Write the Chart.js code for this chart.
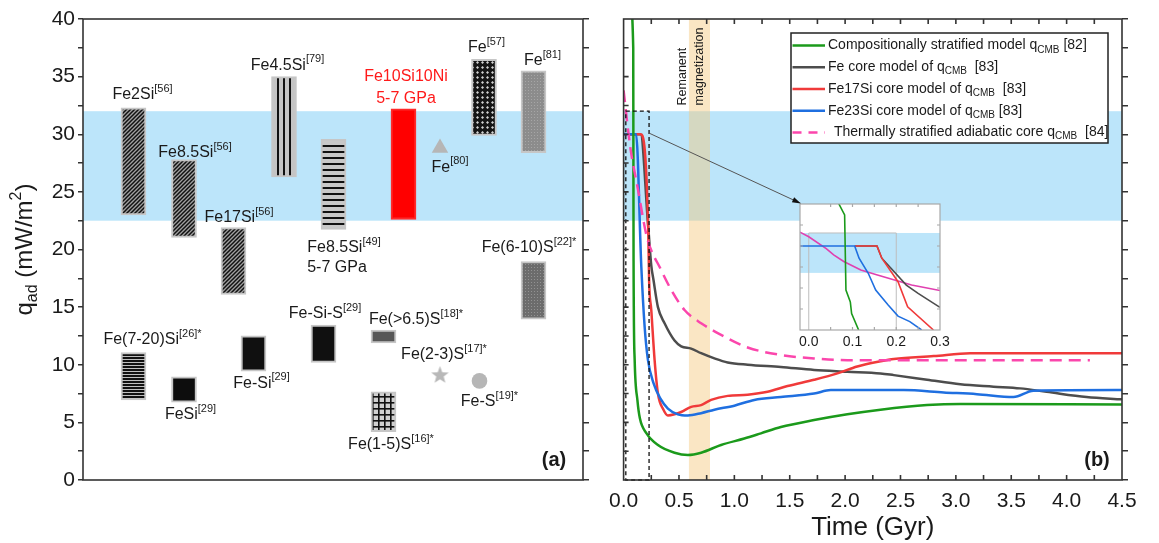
<!DOCTYPE html>
<html lang="en">
<head>
<meta charset="UTF-8">
<title>q_ad and q_CMB</title>
<script src="https://cdn.jsdelivr.net/npm/chart.js@4.4.1/dist/chart.umd.min.js"></script>
<style>
  html, body { margin: 0; padding: 0; background: #fff; }
  body { width: 1159px; height: 543px; position: relative; overflow: hidden; }
  canvas { position: absolute; }
  #chartA { left: 0; top: 0; }
  #chartB { left: 600px; top: 0; }
  #chartC { left: 790px; top: 196px; }
</style>
</head>
<body>
<canvas id="chartA" width="600" height="543"></canvas>
<canvas id="chartB" width="559" height="543"></canvas>
<canvas id="chartC" width="165" height="160"></canvas>
<script>
// ---- panel (a): floating q_ad ranges ----
const barNames = ['Fe2Si[56]', 'Fe8.5Si[56]', 'Fe17Si[56]', 'Fe4.5Si[79]', 'Fe8.5Si[49]', 'Fe10Si10Ni', 'Fe[57]', 'Fe[81]',
  'Fe(6-10)S[22]*', 'Fe(7-20)Si[26]*', 'FeSi[29]', 'Fe-Si[29]', 'Fe-Si-S[29]', 'Fe(>6.5)S[18]*', 'Fe(1-5)S[16]*'];
const barX = [10.1, 20.2, 30.1, 40.2, 50.1, 64.1, 80.2, 90.1, 90.1, 10.1, 20.2, 34.1, 48.1, 60.1, 60.1];
const barLow = [23.0, 21.05, 16.1, 26.3, 21.75, 22.6, 29.9, 28.4, 13.95, 6.95, 6.75, 9.45, 10.2, 11.9, 4.2];
const barHigh = [32.3, 27.8, 21.9, 35.0, 29.55, 32.2, 36.5, 35.5, 18.95, 11.05, 8.95, 12.5, 13.45, 13.0, 7.65];

const markerNames = ['Fe[80]', 'Fe(2-3)S[17]*', 'Fe-S[19]*'];
const markerX = [71.4, 71.4, 79.3];
const markerY = [28.8, 9.15, 8.6];

const bandA = [22.5, 32];

const labelMain = ['Fe2Si', 'Fe8.5Si', 'Fe17Si', 'Fe4.5Si', 'Fe8.5Si', '5-7 GPa', 'Fe10Si10Ni', '5-7 GPa', 'Fe', 'Fe', 'Fe',
  'Fe(6-10)S', 'Fe(7-20)Si', 'FeSi', 'Fe-Si', 'Fe-Si-S', 'Fe(>6.5)S', 'Fe(2-3)S', 'Fe-S', 'Fe(1-5)S'];
const labelSup = ['[56]', '[56]', '[56]', '[79]', '[49]', '', '', '', '[80]', '[57]', '[81]',
  '[22]*', '[26]*', '[29]', '[29]', '[29]', '[18]*', '[17]*', '[19]*', '[16]*'];
const labelX = [11.9, 22.4, 31.2, 40.9, 52.2, 50.8, 64.6, 64.6, 73.4, 80.7, 91.9, 89.2, 13.9, 21.5, 35.7, 48.4, 66.6, 72.2, 81.3, 61.6];
const labelY = [33.4, 28.4, 22.8, 36.0, 20.15, 18.45, 35.0, 33.1, 27.15, 37.5, 36.35, 20.15, 12.15, 5.65, 8.4, 14.45, 13.9, 10.85, 6.8, 3.05];
const labelRed = [6, 7];

// ---- panel (b): q_CMB through time ----
const greenT = [0.055, 0.087, 0.09, 0.10, 0.125, 0.147, 0.207, 0.31, 0.46, 0.58, 0.70, 0.88, 1.09, 1.24, 1.42, 1.72, 2.02, 2.32, 2.74, 3.04, 4.5];
const greenQ = [42, 37.5, 19, 10.4, 6.9, 5.35, 4.05, 3.04, 2.37, 2.17, 2.37, 3.04, 3.6, 4.05, 4.6, 5.2, 5.7, 6.1, 6.5, 6.6, 6.55];
const grayT = [0, 0.153, 0.222, 0.25, 0.27, 0.31, 0.37, 0.46, 0.52, 0.61, 0.70, 0.82, 0.94, 1.12, 1.42, 1.72, 2.02, 2.32, 2.44, 2.74, 3.04, 3.34, 3.58, 3.82, 4.18, 4.5];
const grayQ = [30, 30, 22.0, 18.6, 17.35, 15.0, 13.6, 12.1, 11.6, 11.4, 11.0, 10.55, 10.2, 10.0, 9.8, 9.55, 9.4, 9.25, 9.1, 8.7, 8.3, 8.1, 7.95, 7.65, 7.2, 7.0];
const redT = [0, 0.153, 0.222, 0.23, 0.25, 0.28, 0.31, 0.36, 0.40, 0.46, 0.52, 0.61, 0.70, 0.79, 0.94, 1.12, 1.30, 1.48, 1.72, 1.93, 2.11, 2.32, 2.44, 2.80, 3.13, 4.5];
const redQ = [30, 30, 22.0, 17.4, 14.75, 10.4, 7.5, 6.1, 5.6, 5.7, 5.9, 6.35, 6.5, 6.95, 7.3, 7.4, 7.65, 8.15, 8.7, 9.25, 9.85, 10.3, 10.5, 10.75, 11.0, 11.0];
const blueT = [0, 0.113, 0.16, 0.19, 0.22, 0.27, 0.33, 0.40, 0.49, 0.58, 0.70, 0.82, 1.0, 1.18, 1.42, 1.72, 1.87, 2.53, 2.89, 3.19, 3.52, 3.70, 4.5];
const blueQ = [30, 30, 18.5, 13.3, 10.4, 8.4, 7.1, 6.2, 5.7, 5.6, 5.8, 6.1, 6.45, 6.95, 7.2, 7.5, 7.8, 7.8, 7.6, 7.45, 7.2, 7.75, 7.8];
const pinkT = [0, 0.06, 0.13, 0.21, 0.34, 0.43, 0.55, 0.70, 0.88, 1.12, 1.42, 1.72, 2.02, 4.21];
const pinkQ = [33.8, 28.9, 25.2, 21.1, 18.2, 16.5, 14.75, 13.6, 12.6, 11.5, 10.85, 10.55, 10.4, 10.4];

const bandB = [22.5, 32];
const magnetWindow = [0.59, 0.78];
const zoomBox = { t0: 0.02, t1: 0.23, q0: 0, q1: 32 };
const arrowFrom = [0.23, 30.1];
const arrowTo = [1.60, 24.0];

const legendMain = ['Compositionally stratified model q', 'Fe core model of q', 'Fe17Si core model of q', 'Fe23Si core model of q', 'Thermally stratified adiabatic core q'];
const legendTail = [' [82]', '  [83]', '  [83]', ' [83]', '  [84]'];

// ---- inset (zoom of 0-0.3 Gyr) ----
const insetTicks = [0, 0.1, 0.2, 0.3];
const insetBand = [23.6, 33.1];
const inGreenT = [0.064, 0.082, 0.085, 0.095, 0.098, 0.114];
const inGreenQ = [41, 37.4, 19.5, 16.7, 13.9, 10];
const inBlueT = [-0.02, 0.105, 0.115, 0.136, 0.153, 0.181, 0.204, 0.231, 0.258];
const inBlueQ = [30, 30, 27.1, 23.5, 19.5, 16.0, 13.3, 12.0, 10];
const inRedT = [0.105, 0.156, 0.167, 0.204, 0.226, 0.285];
const inRedQ = [30, 30, 27.1, 21.5, 15.5, 10];
const inGrayT = [0.105, 0.156, 0.167, 0.188, 0.223, 0.25, 0.274, 0.30];
const inGrayQ = [30, 30, 27.1, 24.7, 20.7, 18.7, 17.1, 15.4];
const inPinkT = [-0.02, 0.0, 0.04, 0.057, 0.08, 0.119, 0.157, 0.196, 0.235, 0.30];
const inPinkQ = [33.3, 32.2, 29.4, 27.9, 26.3, 24.3, 23.1, 21.9, 20.7, 19.4];

const FONT = "Arial, 'Liberation Sans', sans-serif";
const INK = '#1a1a1a';
const GREEN = '#1b9a1b', GRAY = '#4d4d4d', RED = '#f03a3a', BLUE = '#1f6fe0', PINK = '#fb46ac';
const SKY = 'rgb(188,229,250)';
Chart.defaults.font.family = FONT;
Chart.defaults.color = INK;
Chart.defaults.animation = false;

const pts = (xs, ys) => xs.map((x, i) => ({ x, y: ys[i] }));

function pat(w, h, draw) {
  const c = document.createElement('canvas');
  c.width = w; c.height = h;
  draw(c.getContext('2d'), w, h);
  return c.getContext('2d').createPattern(c, 'repeat');
}
const diag = pat(4, 4, (g) => {
  g.fillStyle = '#a0a0a0'; g.fillRect(0, 0, 4, 4);
  g.strokeStyle = '#111'; g.lineWidth = 1.5;
  [[-1, 5, 5, -1], [-1, 1, 1, -1], [3, 5, 5, 3]].forEach(([a, b, c, d]) => { g.beginPath(); g.moveTo(a, b); g.lineTo(c, d); g.stroke(); });
});
const vert = pat(6, 2, (g) => { g.fillStyle = '#c4c4c4'; g.fillRect(0, 0, 6, 2); g.fillStyle = '#111'; g.fillRect(1, 0, 2, 2); });
const horiz = pat(2, 6, (g) => { g.fillStyle = '#c8c8c8'; g.fillRect(0, 0, 2, 6); g.fillStyle = '#111'; g.fillRect(0, 1, 2, 2); });
const horizDense = pat(2, 3, (g) => { g.fillStyle = '#c0c0c0'; g.fillRect(0, 0, 2, 3); g.fillStyle = '#111'; g.fillRect(0, 0, 2, 2); });
const diamond = pat(5, 5, (g) => {
  g.fillStyle = '#151515'; g.fillRect(0, 0, 5, 5);
  g.fillStyle = '#d0d0d0'; g.beginPath(); g.moveTo(2.5, 1); g.lineTo(4, 2.5); g.lineTo(2.5, 4); g.lineTo(1, 2.5); g.fill();
});
const fine = (bg, dot) => pat(3, 3, (g) => { g.fillStyle = bg; g.fillRect(0, 0, 3, 3); g.fillStyle = dot; g.fillRect(0, 0, 1, 1); });
const grid = pat(6, 6, (g) => { g.fillStyle = '#d0d0d0'; g.fillRect(0, 0, 6, 6); g.fillStyle = '#111'; g.fillRect(0, 0, 6, 1.6); g.fillRect(0, 0, 1.6, 6); });

const barFill = [diag, diag, diag, vert, horiz, '#ff0000', diamond, fine('#8c8c8c', '#a6a6a6'), fine('#6c6c6c', '#929292'),
  horizDense, '#0d0d0d', '#101010', '#101010', '#565656', grid];
const barEdge = barFill.map((f, i) => i === 5 ? '#ff2a2a' : '#c6c6c6');

const starImg = (() => {
  const c = document.createElement('canvas'); c.width = 19; c.height = 19;
  const g = c.getContext('2d'); g.fillStyle = '#b8b8b8'; g.beginPath();
  for (let k = 0; k < 10; k++) {
    const r = k % 2 ? 3.9 : 9.2, a = -Math.PI / 2 + k * Math.PI / 5;
    g.lineTo(9.5 + r * Math.cos(a), 10.3 + r * Math.sin(a));
  }
  g.closePath(); g.fill(); return c;
})();
const markerStyle = ['triangle', starImg, 'circle'];

// text with super/subscript pieces: [text, 0 normal | 1 sup | -1 sub]
function rich(ctx, parts, x, y, size, color, align, weight) {
  const small = Math.round(size * 0.68);
  const f = (m) => (weight || '') + ' ' + (m ? small : size) + 'px ' + FONT;
  let w = 0;
  parts.forEach(([t, m]) => { ctx.font = f(m); w += ctx.measureText(t).width; });
  let cx = align === 'left' ? x : x - w / 2;
  ctx.fillStyle = color; ctx.textAlign = 'left'; ctx.textBaseline = 'middle';
  parts.forEach(([t, m]) => {
    ctx.font = f(m);
    ctx.fillText(t, cx, y + (m === 1 ? -size * 0.36 : m === -1 ? size * 0.3 : 0));
    cx += ctx.measureText(t).width;
  });
}

const panelA = {
  id: 'panelA',
  beforeDatasetsDraw(chart) {
    const { ctx, chartArea: a, scales: { y } } = chart;
    ctx.save();
    ctx.fillStyle = SKY;
    ctx.fillRect(a.left, y.getPixelForValue(bandA[1]), a.right - a.left, y.getPixelForValue(bandA[0]) - y.getPixelForValue(bandA[1]));
    ctx.restore();
  },
  afterDraw(chart) {
    const { ctx, chartArea: a, scales: { x, y } } = chart;
    ctx.save();
    ctx.strokeStyle = '#333'; ctx.lineWidth = 1.6;
    ctx.strokeRect(a.left, a.top, a.right - a.left, a.bottom - a.top);
    labelMain.forEach((t, i) => {
      const parts = [[t, 0]];
      if (labelSup[i]) parts.push([labelSup[i], 1]);
      rich(ctx, parts, x.getPixelForValue(labelX[i]), y.getPixelForValue(labelY[i]), 16, labelRed.includes(i) ? '#ff1a1a' : INK, 'center');
    });
    rich(ctx, [['(a)', 0]], a.right - 29, a.bottom - 20, 20, INK, 'center', 'bold');
    ctx.translate(25, (a.top + a.bottom) / 2);
    ctx.rotate(-Math.PI / 2);
    rich(ctx, [['q', 0], ['ad', -1], [' (mW/m', 0], ['2', 1], [')', 0]], 0, 0, 24, INK, 'center');
    ctx.restore();
  }
};

new Chart(document.getElementById('chartA'), {
  type: 'bar',
  data: {
    datasets: [
      { type: 'bar', data: barX.map((v, i) => ({ x: v, y: [barLow[i], barHigh[i]] })), backgroundColor: barFill, borderColor: barEdge,
        borderWidth: 2, borderSkipped: false, barThickness: 25 },
      { type: 'scatter', data: pts(markerX, markerY), pointStyle: markerStyle, pointRadius: [9.5, 9, 7.8],
        backgroundColor: '#b6b6b6', borderColor: '#b6b6b6', borderWidth: 0 }
    ]
  },
  options: {
    responsive: false,
    events: [],
    layout: { padding: { top: 19, bottom: 63, left: 0, right: 0 } },
    plugins: { legend: { display: false }, tooltip: { enabled: false } },
    scales: {
      x: { type: 'linear', min: 0, max: 100, offset: false, display: false },
      y: { min: 0, max: 40, position: 'left', afterFit: (s) => { s.width = 83; },
        ticks: { stepSize: 2.5, autoSkip: false, padding: 3, font: { size: 21 }, color: INK, callback: (v) => (v % 5 === 0 ? v : '') },
        grid: { drawOnChartArea: false, tickLength: 5, color: '#333', lineWidth: 1.5 }, border: { display: false } },
      yR: { min: 0, max: 40, position: 'right', afterFit: (s) => { s.width = 17; },
        ticks: { stepSize: 2.5, autoSkip: false, callback: () => '' },
        grid: { drawOnChartArea: false, tickLength: 6, color: '#333', lineWidth: 1.5 }, border: { display: false } }
    }
  },
  plugins: [panelA]
});

const panelB = {
  id: 'panelB',
  beforeDatasetsDraw(chart) {
    const { ctx, chartArea: a, scales: { x, y } } = chart;
    ctx.save();
    ctx.fillStyle = SKY;
    ctx.fillRect(a.left, y.getPixelForValue(bandB[1]), a.right - a.left, y.getPixelForValue(bandB[0]) - y.getPixelForValue(bandB[1]));
    ctx.fillStyle = 'rgba(243,200,125,0.45)';
    ctx.fillRect(x.getPixelForValue(magnetWindow[0]), a.top, x.getPixelForValue(magnetWindow[1]) - x.getPixelForValue(magnetWindow[0]), a.bottom - a.top);
    ctx.restore();
  },
  afterDraw(chart) {
    const { ctx, chartArea: a, scales: { x, y } } = chart;
    ctx.save();
    // dashed zoom box
    ctx.setLineDash([4, 3]); ctx.strokeStyle = '#111'; ctx.lineWidth = 1.3;
    const bx0 = x.getPixelForValue(zoomBox.t0), bx1 = x.getPixelForValue(zoomBox.t1);
    const by0 = y.getPixelForValue(zoomBox.q1), by1 = y.getPixelForValue(zoomBox.q0);
    ctx.strokeRect(bx0, by0, bx1 - bx0, by1 - by0);
    ctx.setLineDash([]);
    // arrow to inset
    const ax0 = x.getPixelForValue(arrowFrom[0]), ay0 = y.getPixelForValue(arrowFrom[1]);
    const ax1 = x.getPixelForValue(arrowTo[0]), ay1 = y.getPixelForValue(arrowTo[1]);
    ctx.strokeStyle = '#555'; ctx.lineWidth = 1;
    ctx.beginPath(); ctx.moveTo(ax0, ay0); ctx.lineTo(ax1, ay1); ctx.stroke();
    const ang = Math.atan2(ay1 - ay0, ax1 - ax0);
    ctx.fillStyle = '#111'; ctx.beginPath(); ctx.moveTo(ax1, ay1);
    ctx.lineTo(ax1 - 9 * Math.cos(ang - 0.3), ay1 - 9 * Math.sin(ang - 0.3));
    ctx.lineTo(ax1 - 9 * Math.cos(ang + 0.3), ay1 - 9 * Math.sin(ang + 0.3));
    ctx.closePath(); ctx.fill();
    // frame and inward ticks
    ctx.strokeStyle = '#333'; ctx.lineWidth = 1.6;
    ctx.strokeRect(a.left, a.top, a.right - a.left, a.bottom - a.top);
    ctx.beginPath();
    for (let q = 2.5; q < 40; q += 2.5) { const py = y.getPixelForValue(q); ctx.moveTo(a.left, py); ctx.lineTo(a.left + 5, py); }
    for (let t = 0.25; t < 4.5; t += 0.25) {
      const px = x.getPixelForValue(t);
      ctx.moveTo(px, a.top); ctx.lineTo(px, a.top + 5);
      ctx.moveTo(px, a.bottom); ctx.lineTo(px, a.bottom - 5);
    }
    ctx.stroke();
    // remanent magnetization note
    const mid = x.getPixelForValue((magnetWindow[0] + magnetWindow[1]) / 2);
    ctx.save();
    ctx.translate(mid, y.getPixelForValue(32.5)); ctx.rotate(-Math.PI / 2);
    ctx.font = '12.5px ' + FONT; ctx.fillStyle = INK; ctx.textAlign = 'left'; ctx.textBaseline = 'middle';
    ctx.fillText('Remanent', 0, -16.5); ctx.fillText('magnetization', 0, 0);
    ctx.restore();
    // legend box
    const lx = 191, ly = 33, lw = 317, lh = 110;
    ctx.fillStyle = '#fff'; ctx.fillRect(lx, ly, lw, lh);
    ctx.strokeStyle = '#222'; ctx.lineWidth = 1.5; ctx.strokeRect(lx, ly, lw, lh);
    const cols = [GREEN, GRAY, RED, BLUE, PINK];
    legendMain.forEach((t, i) => {
      const ry = 45.6 + i * 21.7;
      ctx.strokeStyle = cols[i]; ctx.lineWidth = 2.5;
      ctx.setLineDash(i === 4 ? [9, 7] : []);
      ctx.beginPath(); ctx.moveTo(lx + 1.5, ry); ctx.lineTo(lx + 34, ry); ctx.stroke();
      ctx.setLineDash([]);
      rich(ctx, [[t, 0], ['CMB', -1], [legendTail[i], 0]], lx + (i === 4 ? 43 : 37), ry, 14, INK, 'left');
    });
    rich(ctx, [['(b)', 0]], a.right - 25, a.bottom - 20, 20, INK, 'center', 'bold');
    ctx.restore();
  }
};

const line = (label, xs, ys, color, extra) => Object.assign({
  type: 'line', label, data: pts(xs, ys), borderColor: color, backgroundColor: color, borderWidth: 2.5,
  pointRadius: 0, cubicInterpolationMode: 'monotone', fill: false
}, extra || {});

new Chart(document.getElementById('chartB'), {
  type: 'line',
  data: {
    datasets: [
      line('Thermally stratified adiabatic core', pinkT, pinkQ, PINK, { borderDash: [12, 7] }),
      line('Compositionally stratified model', greenT, greenQ, GREEN),
      line('Fe23Si core model', blueT, blueQ, BLUE),
      line('Fe17Si core model', redT, redQ, RED),
      line('Fe core model', grayT, grayQ, GRAY)
    ]
  },
  options: {
    responsive: false,
    events: [],
    layout: { padding: { top: 19, left: 0, right: 0, bottom: 0 } },
    plugins: { legend: { display: false }, tooltip: { enabled: false } },
    scales: {
      x: { type: 'linear', min: 0, max: 4.5, afterFit: (s) => { s.height = 63; },
        ticks: { stepSize: 0.25, autoSkip: false, maxRotation: 0, padding: 9, font: { size: 21 }, color: INK,
          callback: (v) => (Math.abs(v * 2 - Math.round(v * 2)) < 1e-6 ? v.toFixed(1) : '') },
        grid: { display: false, drawTicks: false }, border: { display: false },
        title: { display: true, text: 'Time (Gyr)', font: { size: 26 }, color: INK, padding: { top: 0, bottom: 0 } } },
      y: { min: 0, max: 40, afterFit: (s) => { s.width = 22; }, ticks: { display: false }, grid: { display: false }, border: { display: false } },
      yR: { min: 0, max: 40, position: 'right', afterFit: (s) => { s.width = 37; },
        ticks: { stepSize: 2.5, autoSkip: false, callback: () => '' },
        grid: { drawOnChartArea: false, tickLength: 6, color: '#333', lineWidth: 1.5 }, border: { display: false } }
    }
  },
  plugins: [panelB]
});

const insetDeco = {
  id: 'insetDeco',
  beforeDatasetsDraw(chart) {
    const { ctx, chartArea: a, scales: { x, y } } = chart;
    ctx.save();
    ctx.fillStyle = '#fff'; ctx.fillRect(a.left, a.top, a.right - a.left, a.bottom - a.top);
    ctx.fillStyle = SKY;
    ctx.fillRect(a.left, y.getPixelForValue(insetBand[1]), a.right - a.left, y.getPixelForValue(insetBand[0]) - y.getPixelForValue(insetBand[1]));
    ctx.strokeStyle = '#bdbdbd'; ctx.lineWidth = 1;
    const gx0 = x.getPixelForValue(0), gx1 = x.getPixelForValue(0.2), gy = y.getPixelForValue(insetBand[1]);
    ctx.beginPath(); ctx.moveTo(gx0, a.bottom); ctx.lineTo(gx0, gy); ctx.lineTo(gx1, gy); ctx.lineTo(gx1, a.bottom); ctx.stroke();
    ctx.restore();
  },
  afterDraw(chart) {
    const { ctx, chartArea: a, scales: { x, y } } = chart;
    ctx.save();
    ctx.strokeStyle = '#a8a8a8'; ctx.lineWidth = 1.2;
    ctx.strokeRect(a.left, a.top, a.right - a.left, a.bottom - a.top);
    ctx.beginPath();
    for (let q = 15; q < 40; q += 5) { const py = y.getPixelForValue(q); ctx.moveTo(a.left, py); ctx.lineTo(a.left + 3, py); ctx.moveTo(a.right, py); ctx.lineTo(a.right - 3, py); }
    for (let t = 0.05; t < 0.3; t += 0.05) { const px = x.getPixelForValue(t); ctx.moveTo(px, a.top); ctx.lineTo(px, a.top + 3); ctx.moveTo(px, a.bottom); ctx.lineTo(px, a.bottom - 3); }
    ctx.stroke();
    ctx.restore();
  }
};

const thin = { borderWidth: 1.6, cubicInterpolationMode: 'default', tension: 0 };
new Chart(document.getElementById('chartC'), {
  type: 'line',
  data: {
    datasets: [
      line('Compositionally stratified model', inGreenT, inGreenQ, GREEN, thin),
      line('Fe23Si core model', inBlueT, inBlueQ, BLUE, thin),
      line('Fe17Si core model', inRedT, inRedQ, RED, thin),
      line('Fe core model', inGrayT, inGrayQ, GRAY, thin),
      line('Thermally stratified adiabatic core', inPinkT, inPinkQ, '#e040b0', thin)
    ]
  },
  options: {
    responsive: false,
    events: [],
    layout: { padding: { top: 8, left: 0, right: 15, bottom: 0 } },
    plugins: { legend: { display: false }, tooltip: { enabled: false } },
    scales: {
      x: { type: 'linear', min: -0.02, max: 0.3, afterFit: (s) => { s.height = 26; },
        afterBuildTicks: (s) => { s.ticks = insetTicks.map((v) => ({ value: v })); },
        ticks: { autoSkip: false, maxRotation: 0, padding: 4, font: { size: 14 }, color: INK, callback: (v) => v.toFixed(1) },
        grid: { display: false, drawTicks: false }, border: { display: false } },
      y: { min: 10, max: 40, afterFit: (s) => { s.width = 10; }, ticks: { display: false }, grid: { display: false }, border: { display: false } }
    }
  },
  plugins: [insetDeco]
});
</script>
</body>
</html>
